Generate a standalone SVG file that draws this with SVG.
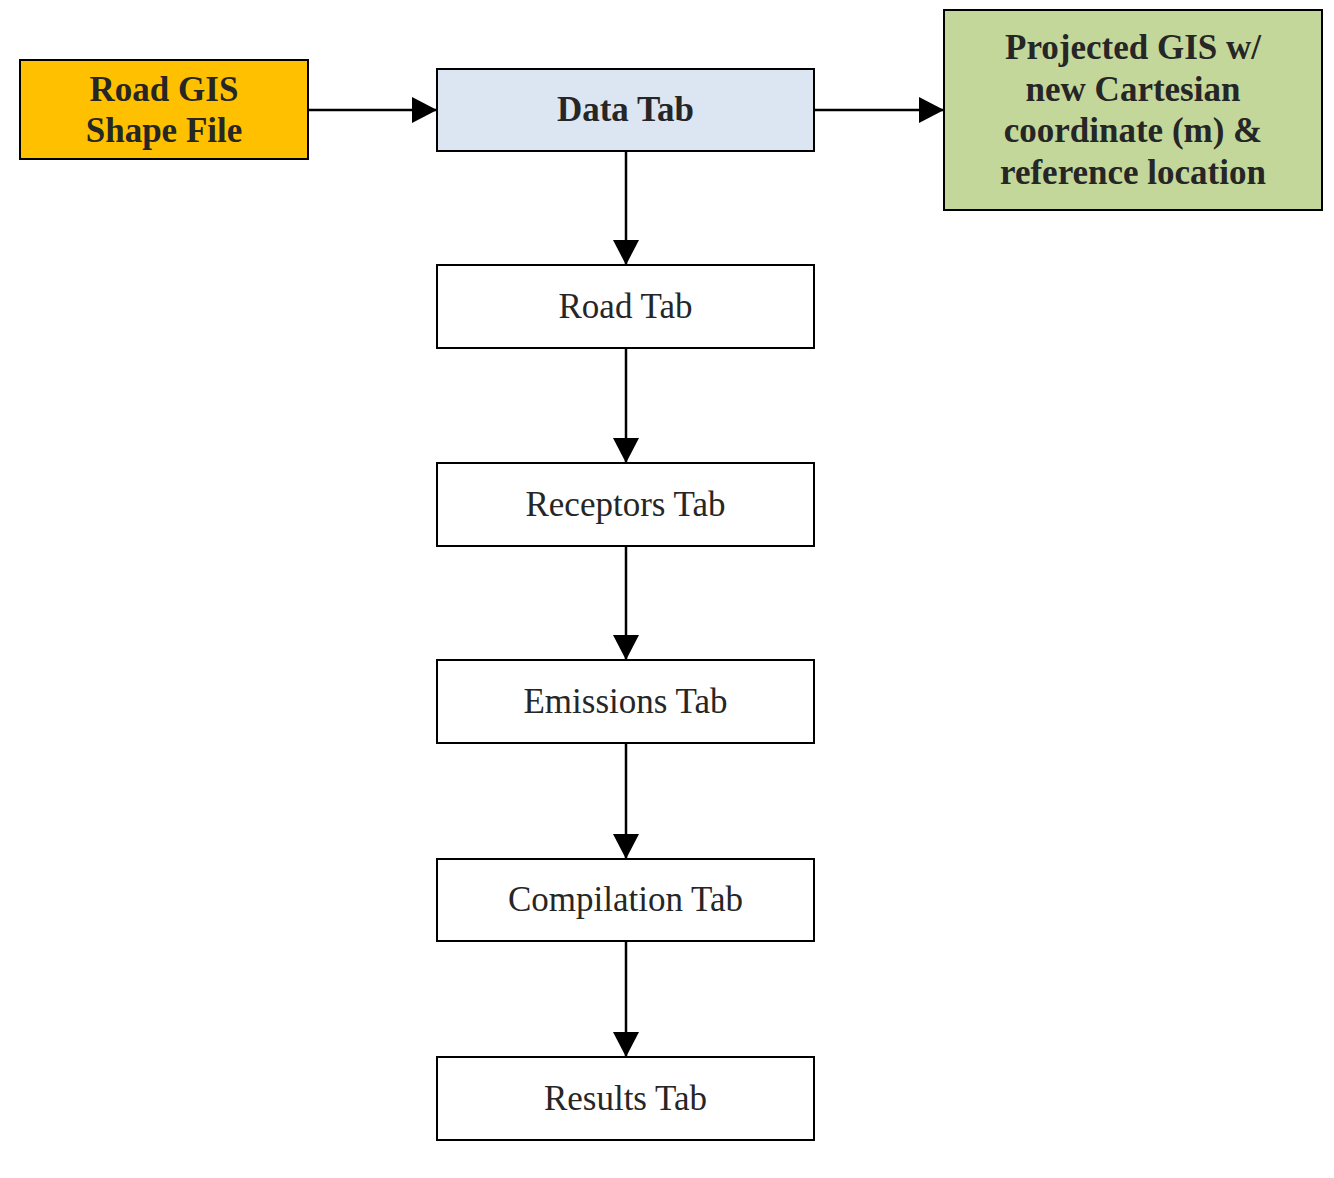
<svg xmlns="http://www.w3.org/2000/svg" width="1334" height="1178" viewBox="0 0 1334 1178">
<style>
.box{stroke:#000;stroke-width:2}
.t{font-family:"Liberation Serif",serif;font-size:35px;fill:#262626;text-anchor:middle}
.b{font-weight:bold}
.c{stroke:#000;stroke-width:2.5;fill:none}
</style>
<defs>
<marker id="ah" markerUnits="userSpaceOnUse" markerWidth="26" markerHeight="26" refX="25" refY="13" orient="auto">
<path d="M0,0 L25,13 L0,26 Z" fill="#000"/>
</marker>
</defs>
<rect width="1334" height="1178" fill="#fff"/>
<g id="connectors">
<line class="c" x1="308" y1="110" x2="437" y2="110" marker-end="url(#ah)"/>
<line class="c" x1="814" y1="110" x2="944" y2="110" marker-end="url(#ah)"/>
<line class="c" x1="626" y1="151" x2="626" y2="265" marker-end="url(#ah)"/>
<line class="c" x1="626" y1="348" x2="626" y2="463" marker-end="url(#ah)"/>
<line class="c" x1="626" y1="546" x2="626" y2="660" marker-end="url(#ah)"/>
<line class="c" x1="626" y1="743" x2="626" y2="859" marker-end="url(#ah)"/>
<line class="c" x1="626" y1="941" x2="626" y2="1057" marker-end="url(#ah)"/>
</g>
<g id="road-gis">
<rect class="box" x="20" y="60" width="288" height="99" fill="#FFC000"/>
<text class="t b" x="164" y="101">Road GIS</text>
<text class="t b" x="164" y="142">Shape File</text>
</g>
<g id="data-tab">
<rect class="box" x="437" y="69" width="377" height="82" fill="#DCE6F2"/>
<text class="t b" x="625.5" y="121">Data Tab</text>
</g>
<g id="projected">
<rect class="box" x="944" y="10" width="378" height="200" fill="#C4D79B"/>
<text class="t b" x="1133" y="59">Projected GIS w/</text>
<text class="t b" x="1133" y="100.5">new Cartesian</text>
<text class="t b" x="1133" y="142">coordinate (m) &amp;</text>
<text class="t b" x="1133" y="183.5">reference location</text>
</g>
<g id="road-tab">
<rect class="box" x="437" y="265" width="377" height="83" fill="#fff"/>
<text class="t" x="625.5" y="318">Road Tab</text>
</g>
<g id="receptors-tab">
<rect class="box" x="437" y="463" width="377" height="83" fill="#fff"/>
<text class="t" x="625.5" y="516">Receptors Tab</text>
</g>
<g id="emissions-tab">
<rect class="box" x="437" y="660" width="377" height="83" fill="#fff"/>
<text class="t" x="625.5" y="713">Emissions Tab</text>
</g>
<g id="compilation-tab">
<rect class="box" x="437" y="859" width="377" height="82" fill="#fff"/>
<text class="t" x="625.5" y="911">Compilation Tab</text>
</g>
<g id="results-tab">
<rect class="box" x="437" y="1057" width="377" height="83" fill="#fff"/>
<text class="t" x="625.5" y="1110">Results Tab</text>
</g>
</svg>
